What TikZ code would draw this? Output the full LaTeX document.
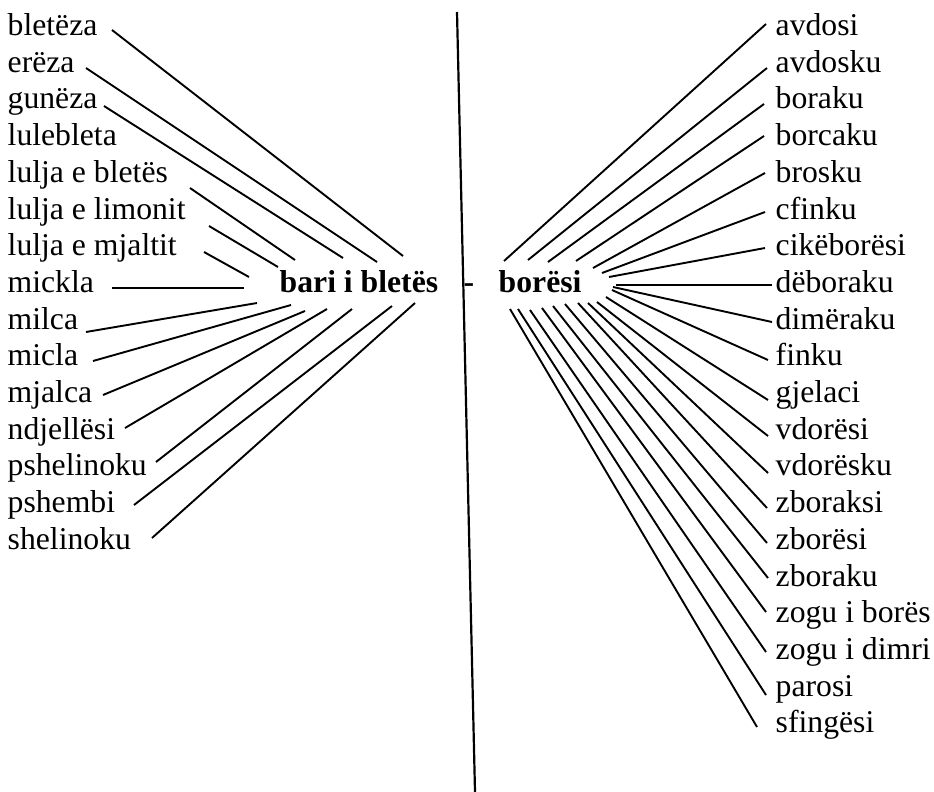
\documentclass[tikz,border=0pt]{standalone}
\usepackage{fontspec}
\setmainfont{Liberation Serif}
\begin{document}
\begin{tikzpicture}[x=1pt,y=-1pt,
  lbl/.style={inner sep=0pt, anchor=base west, font=\fontsize{31.7}{36}\selectfont},
  hub/.style={lbl, font=\fontsize{31.7}{36}\selectfont\bfseries},
  link/.style={line width=1.9pt},
  divider/.style={line width=2.2pt}]
\useasboundingbox (0,0) rectangle (934,792);

% left word list
\foreach \t [count=\i] in {bletëza, erëza, gunëza, lulebleta, lulja e bletës,
    lulja e limonit, lulja e mjaltit, mickla, milca, micla, mjalca, ndjellësi,
    pshelinoku, pshembi, shelinoku}
  \node[lbl] (L\i) at (7.5, 35.5+36.7*\i-36.7) {\t};

% right word list
\foreach \t [count=\i] in {avdosi, avdosku, boraku, borcaku, brosku, cfinku,
    cikëborësi, dëboraku, dimëraku, finku, gjelaci, vdorësi, vdorësku, zboraksi,
    zborësi, zboraku, zogu i borës, zogu i dimri, parosi, sfingësi}
  \node[lbl] (R\i) at (775.5, 35.5+36.7*\i-36.7) {\t};

% the two headwords and the separator
\node[hub] (left)  at (279.5, 292.4) {bari i bletës};
\node[hub] (sep)   at (463.5, 292.4) {-};
\node[hub] (right) at (498.5, 292.4) {borësi};

\coordinate (divtop) at (457,12);
\coordinate (divbot) at (475,792);
\draw[divider] (divtop) -- (divbot);

% rays from the left words towards "bari i bletës"
\foreach \i/\ax/\ay/\bx/\by in {
    1/112/30/403/256, 2/86/68/377/262, 3/104/106/343/258,
    5/190/188/295/260, 6/209/226/278/267, 7/204/252/249/277,
    8/112/288/244/288, 9/86/332/257/303, 10/93/361/291/305,
    11/103/395/305/311, 12/125/428/327/309, 13/156/462/352/309,
    14/134/505/392/306, 15/152/538/415/303} {
  \coordinate (la\i) at (\ax,\ay);
  \coordinate (lb\i) at (\bx,\by);
  \draw[link] (la\i) -- (lb\i);
}

% rays from "borësi" towards the right words
\foreach \i/\ax/\ay/\bx/\by in {
    1/766/24/504/261, 2/767/68/528/260, 3/764/104/548/262,
    4/764/136/576/261, 5/765/173/593/268, 6/765/212/602/273,
    7/765/248/609/277, 8/772/285/616/285, 9/772/322/613/287,
    10/768/360/612/290, 11/768/400/606/297, 12/768/436/597/302,
    13/768/473/588/303, 14/767/508/578/303, 15/767/543/565/304,
    16/768/578/553/306, 17/766/612/542/308, 18/766/652/530/310,
    19/766/695/518/309, 20/757/727/510/309} {
  \coordinate (ra\i) at (\ax,\ay);
  \coordinate (rb\i) at (\bx,\by);
  \draw[link] (rb\i) -- (ra\i);
}
\end{tikzpicture}
\end{document}
